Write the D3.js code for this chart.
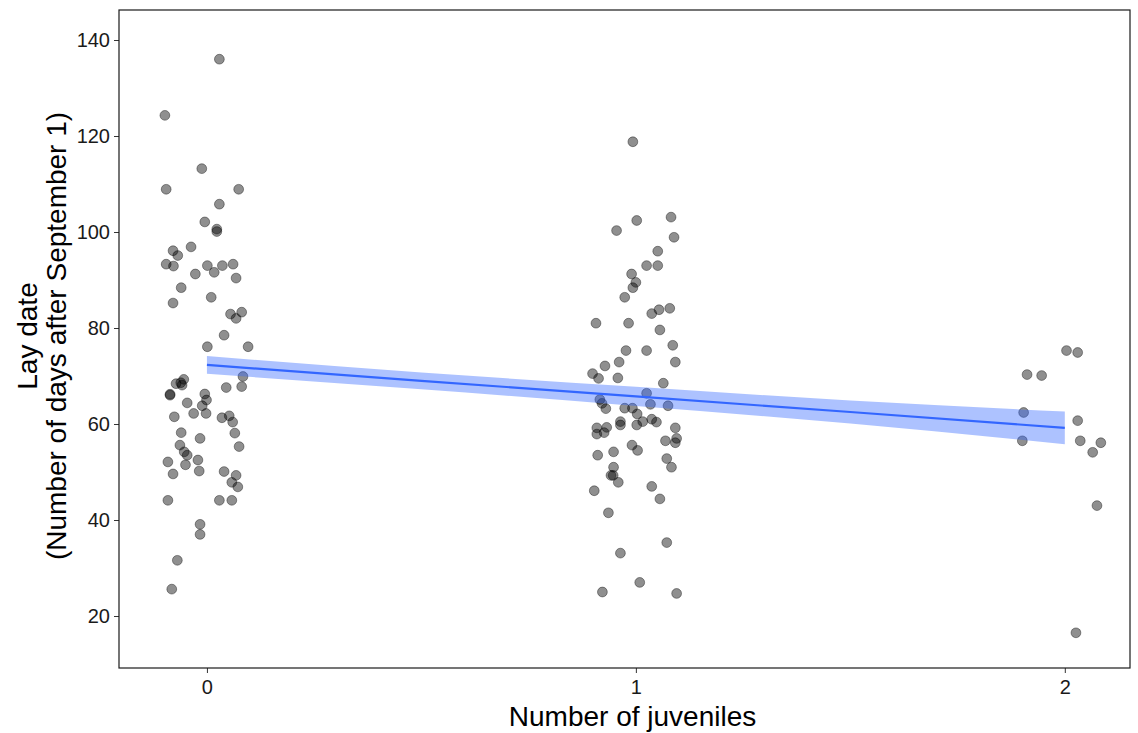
<!DOCTYPE html>
<html>
<head>
<meta charset="utf-8">
<script src="https://cdn.jsdelivr.net/npm/d3@7"></script>
<style>
  body { margin: 0; background: #fff; }
  text { font-family: "Liberation Sans", Arial, sans-serif; }
</style>
</head>
<body>
<div id="chart"></div>
<script>
// jittered number of juveniles
var juvX = [
  0.029,-0.098,-0.012,-0.095,0.074,0.029,-0.005,0.023,0.023,-0.037,-0.079,-0.068,-0.095,-0.078,0.001,0.036,0.061,0.017,-0.027,0.068,
  -0.060,0.010,-0.079,0.055,0.081,0.068,0.040,0.001,0.096,0.084,0.081,0.045,-0.054,-0.072,-0.061,-0.058,-0.086,-0.086,-0.005,-0.001,
  -0.011,-0.046,-0.076,-0.031,-0.002,0.035,0.052,0.060,0.065,-0.060,-0.016,0.075,-0.063,-0.053,-0.046,-0.091,-0.050,-0.021,-0.079,-0.018,
  0.040,0.068,0.058,0.072,-0.091,0.029,0.058,-0.016,-0.016,-0.069,-0.082,
  0.993,1.082,1.002,0.955,1.089,1.051,1.025,1.051,0.990,1.000,0.993,0.974,1.037,1.054,1.079,0.907,0.983,1.056,1.086,0.977,
  1.025,1.092,0.961,0.928,0.899,0.913,0.958,1.064,1.025,0.916,0.921,0.930,1.034,1.075,0.974,0.992,1.003,0.964,0.964,1.016,
  1.002,1.037,1.048,0.909,0.932,0.909,0.926,1.092,1.069,1.095,1.092,0.991,1.004,0.948,0.911,1.072,1.083,0.948,0.942,0.947,
  0.959,0.903,1.037,1.056,0.936,1.072,0.964,1.009,0.922,1.095,
  2.004,2.030,1.912,1.946,1.904,1.901,2.030,2.036,2.084,2.065,2.075,2.026
];
// lay date, days after September 1
var layDate = [
  136.0,124.3,113.2,108.9,108.9,105.8,102.1,100.6,100.1,96.9,96.1,95.1,93.3,92.9,93.0,93.0,93.3,91.6,91.25,90.4,
  88.4,86.4,85.2,82.9,83.3,82.0,78.5,76.1,76.1,69.9,67.8,67.6,69.3,68.4,68.6,68.1,66.2,66.0,66.25,65.0,
  63.8,64.4,61.5,62.2,62.2,61.3,61.7,60.4,58.1,58.2,57.0,55.3,55.6,54.2,53.5,52.1,51.5,52.5,49.6,50.2,
  50.1,49.3,47.85,46.9,44.1,44.1,44.1,39.1,37.0,31.6,25.6,
  118.8,103.1,102.4,100.3,98.9,96.0,93.0,93.0,91.25,89.5,88.4,86.4,83.0,83.8,84.1,81.0,81.0,79.6,76.4,75.3,
  75.3,72.9,72.9,72.1,70.5,69.5,69.6,68.5,66.4,65.1,64.3,63.2,64.1,63.8,63.3,63.3,62.1,60.5,59.8,60.5,
  59.8,61.0,60.4,59.2,59.3,57.9,58.2,59.2,56.5,57.0,56.1,55.6,54.5,54.2,53.5,52.8,51.0,51.0,49.3,49.3,
  47.85,46.1,47.0,44.4,41.5,35.3,33.1,27.0,25.0,24.7,
  75.3,74.9,70.3,70.1,62.4,56.5,60.7,56.5,56.1,54.1,43.0,16.5
];
// linear fit with 95% band
var fitX = [0, 0.5, 1, 1.5, 2];
var fitY = [72.3, 69.0, 65.75, 62.5, 59.2];
var fitLo = [70.45, 67.25, 63.75, 60.1, 55.8];
var fitHi = [74.15, 70.75, 67.75, 64.9, 62.6];
var xTicks = [0, 1, 2];
var yTicks = [20, 40, 60, 80, 100, 120, 140];

var width = 1138, height = 733;
var pLeft = 119, pTop = 10, pRight = 1130, pBottom = 668;

var svg = d3.select("#chart").append("svg")
  .attr("width", width).attr("height", height);

var x = d3.scaleLinear().domain([-0.205, 2.152]).range([pLeft, pRight]);
var y = d3.scaleLinear().domain([9.17, 146.25]).range([pBottom, pTop]);

var pts = juvX.map(function(d, i) { return {x: d, y: layDate[i]}; });
var fit = fitX.map(function(d, i) { return {x: d, y: fitY[i], lo: fitLo[i], hi: fitHi[i]}; });

// points
svg.append("g").selectAll("circle")
  .data(pts).enter().append("circle")
    .attr("cx", function(d) { return x(d.x); })
    .attr("cy", function(d) { return y(d.y); })
    .attr("r", 4.9)
    .attr("fill", "rgba(0,0,0,0.44)")
    .attr("stroke", "rgba(0,0,0,0.38)")
    .attr("stroke-width", 1);

// confidence band
svg.append("path")
  .datum(fit)
  .attr("d", d3.area()
    .x(function(d) { return x(d.x); })
    .y0(function(d) { return y(d.lo); })
    .y1(function(d) { return y(d.hi); })
    .curve(d3.curveMonotoneX))
  .attr("fill", "#3366FF")
  .attr("fill-opacity", 0.4);

svg.append("path")
  .datum(fit)
  .attr("d", d3.line()
    .x(function(d) { return x(d.x); })
    .y(function(d) { return y(d.y); }))
  .attr("fill", "none")
  .attr("stroke", "#3366FF")
  .attr("stroke-width", 2.2);

// axes
var xAxis = svg.append("g")
  .attr("transform", "translate(0," + pBottom + ")")
  .call(d3.axisBottom(x).tickValues(xTicks).tickSize(5).tickPadding(7).tickFormat(d3.format("d")));
var yAxis = svg.append("g")
  .attr("transform", "translate(" + pLeft + ",0)")
  .call(d3.axisLeft(y).tickValues(yTicks).tickSize(5).tickPadding(4));

[xAxis, yAxis].forEach(function(a) {
  a.attr("font-size", null).attr("font-family", null);
  a.select(".domain").remove();
  a.selectAll("line").attr("stroke", "#333").attr("stroke-width", 1);
  a.selectAll("text").attr("font-size", 20).attr("fill", "#1a1a1a");
});

// panel border
svg.append("rect")
  .attr("x", pLeft).attr("y", pTop)
  .attr("width", pRight - pLeft).attr("height", pBottom - pTop)
  .attr("fill", "none").attr("stroke", "#1a1a1a").attr("stroke-width", 1.2);

// titles
svg.append("text")
  .attr("x", (pLeft + pRight) / 2 + 8).attr("y", 726)
  .attr("text-anchor", "middle").attr("font-size", 28)
  .text("Number of juveniles");

var yt = svg.append("text")
  .attr("transform", "translate(0," + ((pTop + pBottom) / 2 - 3) + ") rotate(-90)")
  .attr("text-anchor", "middle").attr("font-size", 28);
yt.append("tspan").attr("x", 0).attr("y", 37).text("Lay date");
yt.append("tspan").attr("x", 0).attr("y", 66).text("(Number of days after September 1)");
</script>
</body>
</html>
